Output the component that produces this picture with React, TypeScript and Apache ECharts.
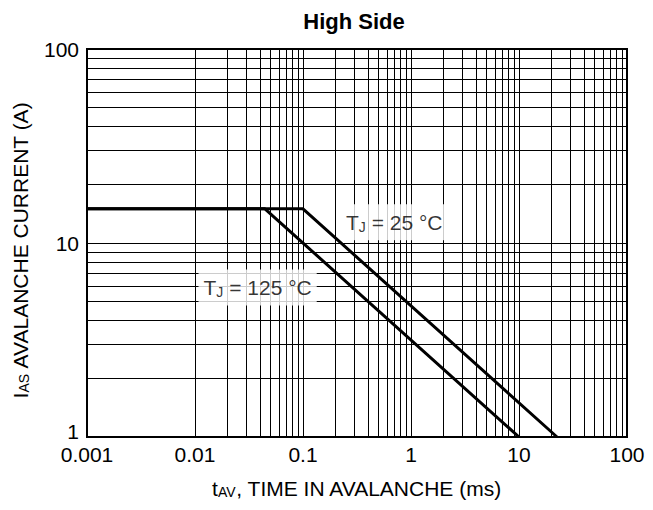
import React, { useEffect, useRef } from "react";
import * as echarts from "echarts";

const xTickLabels = ["0.001", "0.01", "0.1", "1", "10", "100"];
const yTickLabels = ["1", "10", "100"];

const xMinorGrid = [
  0.002, 0.003, 0.004, 0.005, 0.006, 0.007, 0.008, 0.009,
  0.02, 0.03, 0.04, 0.05, 0.06, 0.07, 0.08, 0.09,
  0.2, 0.3, 0.4, 0.5, 0.6, 0.7, 0.8, 0.9,
  2, 3, 4, 5, 6, 7, 8, 9,
  20, 30, 40, 50, 60, 70, 80, 90,
];
const yMinorGrid = [
  2, 3, 4, 5, 6, 7, 8, 9,
  20, 30, 40, 50, 60, 70, 80, 90,
];

// t_AV (ms), I_AS (A)
const tj25 = [
  [0.001, 15],
  [0.1, 15],
  [22.5, 1],
];
const tj125 = [
  [0.001, 15],
  [0.0444, 15],
  [10, 1],
];

const labelPoints = [
  { value: [0.7, 12.8], text: "{t|T}{s|J}{t| = 25 °C}" },
  { value: [0.038, 5.9], text: "{t|T}{s|J}{t| = 125 °C}" },
];

const FONT = "Liberation Sans, Arial, Helvetica, sans-serif";

export default function App() {
  const ref = useRef<HTMLDivElement>(null);
  useEffect(() => {
    if (!ref.current) return;
    const chart = echarts.init(ref.current, undefined, { renderer: "svg" });
    const gridLine = { color: "#000", width: 1, type: "solid" as const };
    chart.setOption({
      animation: false,
      backgroundColor: "#fff",
      textStyle: { fontFamily: FONT, color: "#000" },
      title: {
        text: "High Side",
        left: 349,
        textAlign: "center",
        top: 5,
        textStyle: { fontFamily: FONT, fontWeight: "bold", fontSize: 22, color: "#000" },
      },
      grid: {
        left: 87,
        right: 26,
        top: 49,
        bottom: 73,
        show: true,
        borderColor: "#000",
        borderWidth: 2,
        backgroundColor: "transparent",
      },
      xAxis: {
        type: "log",
        logBase: 10,
        min: 0.001,
        max: 100,
        name: "{a|t}{s|AV}{a|, TIME IN AVALANCHE (ms)}",
        nameLocation: "middle",
        nameGap: 40,
        nameTextStyle: {
          rich: {
            a: { fontSize: 21, fontFamily: FONT, color: "#000" },
            s: { fontSize: 14, fontFamily: FONT, color: "#000", padding: [8, 0, 0, 0] },
          },
        },
        axisLine: { show: true, lineStyle: { color: "#000", width: 2 } },
        axisTick: { show: false },
        axisLabel: {
          fontSize: 21,
          fontFamily: FONT,
          color: "#000",
          margin: 7,
          formatter: (v: number) => {
            const i = Math.round(Math.log10(v)) + 3;
            return xTickLabels[i] ?? "";
          },
        },
        splitLine: { show: true, lineStyle: gridLine },
      },
      yAxis: {
        type: "log",
        logBase: 10,
        min: 1,
        max: 100,
        name: "{a|I}{s|AS}{a| AVALANCHE CURRENT (A)}",
        nameLocation: "middle",
        nameGap: 56,
        nameTextStyle: {
          padding: [0, 14, 0, 0],
          rich: {
            a: { fontSize: 21, fontFamily: FONT, color: "#000" },
            s: { fontSize: 14, fontFamily: FONT, color: "#000", padding: [8, 0, 0, 0] },
          },
        },
        axisLine: { show: true, lineStyle: { color: "#000", width: 2 } },
        axisTick: { show: false },
        axisLabel: {
          fontSize: 21,
          fontFamily: FONT,
          color: "#000",
          margin: 8,
          formatter: (v: number) => {
            const i = Math.round(Math.log10(v));
            const t = yTickLabels[i] ?? "";
            return i === 0 ? "{low|" + t + "}" : t;
          },
          rich: {
            low: { fontSize: 21, fontFamily: FONT, color: "#000", padding: [0, 0, 12, 0] },
          },
        },
        splitLine: { show: true, lineStyle: gridLine },
      },
      series: [
        {
          type: "line",
          data: [],
          silent: true,
          z: 1,
          markLine: {
            silent: true,
            symbol: "none",
            label: { show: false },
            lineStyle: gridLine,
            data: [
              ...xMinorGrid.map((v) => ({ xAxis: v })),
              ...yMinorGrid.map((v) => ({ yAxis: v })),
            ],
          },
        },
        {
          name: "TJ=25",
          type: "line",
          data: tj25,
          symbol: "none",
          z: 3,
          lineStyle: { color: "#000", width: 3 },
        },
        {
          name: "TJ=125",
          type: "line",
          data: tj125,
          symbol: "none",
          z: 3,
          lineStyle: { color: "#000", width: 3 },
        },
        {
          type: "scatter",
          symbolSize: 0,
          z: 5,
          data: labelPoints.map((p) => ({
            value: p.value,
            label: {
              show: true,
              position: "inside",
              formatter: p.text,
              backgroundColor: "#fff",
              padding: [5, 5, 5, 5],
              rich: {
                t: { fontSize: 21, fontFamily: FONT, color: "#000", lineHeight: 26 },
                s: { fontSize: 14, fontFamily: FONT, color: "#000", padding: [10, 0, 0, 0] },
              },
            },
          })),
        },
      ],
    });
    return () => chart.dispose();
  }, []);
  return <div ref={ref} style={{ width: 653, height: 510, margin: -8 }} />;
}
